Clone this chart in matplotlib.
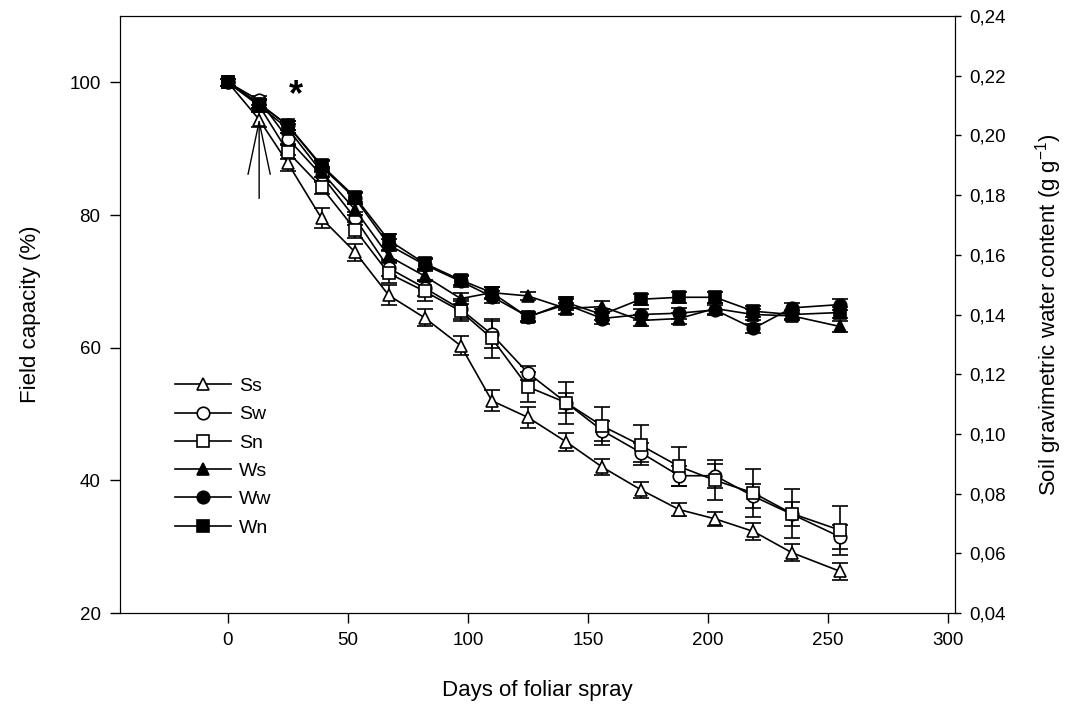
import matplotlib
matplotlib.use('Agg')
import matplotlib.pyplot as plt
from matplotlib.ticker import FuncFormatter

plt.rcParams['font.family'] = ['Liberation Sans', 'DejaVu Sans']
plt.rcParams['mathtext.fontset'] = 'custom'
plt.rcParams['mathtext.rm'] = 'Liberation Sans'
plt.rcParams['mathtext.it'] = 'Liberation Sans'

# days of foliar spray
days = [0, 13, 25, 39, 53, 67, 82, 97, 110, 125, 141, 156, 172, 188, 203, 219, 235, 255]

# field capacity (%) per treatment, with standard errors
ss = [100, 94.4, 87.8, 79.5, 74.4, 67.9, 64.5, 60.3, 52.0, 49.5, 45.8, 42.0, 38.6, 35.6, 34.2, 32.3, 29.1, 26.3]
ss_err = [0.5, 1.2, 1.2, 1.5, 1.3, 1.5, 1.3, 1.4, 1.6, 1.6, 1.3, 1.2, 1.2, 1.0, 1.1, 1.3, 1.3, 1.3]
sw = [100, 97.3, 91.5, 86.0, 79.5, 72.0, 69.0, 65.8, 62.0, 56.2, 51.7, 47.5, 44.2, 40.7, 40.7, 37.6, 34.9, 31.5]
sw_err = [0.5, 0.7, 0.8, 1.0, 1.0, 1.2, 1.2, 1.5, 2.0, 1.0, 1.5, 1.5, 1.5, 1.5, 1.8, 1.8, 1.8, 1.8]
sn = [100, 96.5, 89.5, 84.2, 77.8, 71.2, 68.5, 65.5, 61.4, 54.1, 51.7, 48.2, 45.3, 42.1, 40.0, 38.1, 35.0, 32.5]
sn_err = [0.5, 0.8, 1.0, 1.0, 1.2, 1.5, 1.5, 1.5, 3.0, 2.3, 3.2, 2.8, 3.0, 3.0, 3.0, 3.6, 3.7, 3.7]
ws = [100, 96.5, 93.0, 86.5, 80.8, 73.8, 70.8, 67.4, 68.3, 67.8, 65.9, 66.2, 64.1, 64.4, 65.9, 65.0, 64.8, 63.2]
ws_err = [0.5, 0.8, 0.7, 0.8, 0.8, 0.9, 0.8, 0.8, 0.8, 0.6, 0.8, 0.8, 0.8, 0.8, 0.8, 0.8, 0.7, 0.8]
ww = [100, 96.8, 93.5, 87.3, 82.5, 75.5, 72.5, 70.0, 67.7, 64.7, 66.5, 64.4, 65.0, 65.2, 65.7, 62.9, 66.0, 66.5]
ww_err = [0.5, 0.7, 0.7, 0.8, 0.8, 0.9, 0.8, 0.8, 0.9, 0.7, 0.8, 0.8, 0.8, 0.8, 0.8, 0.7, 0.7, 0.8]
wn = [100, 96.8, 93.5, 87.5, 82.7, 76.2, 72.7, 70.2, 68.3, 64.6, 66.8, 65.0, 67.3, 67.6, 67.6, 65.5, 65.0, 65.3]
wn_err = [0.5, 0.7, 0.7, 0.8, 0.8, 0.9, 0.8, 0.8, 0.9, 0.7, 0.8, 0.8, 0.8, 0.8, 0.8, 0.8, 0.7, 0.8]

labels = ['Ss', 'Sw', 'Sn', 'Ws', 'Ww', 'Wn']
series = [ss, sw, sn, ws, ww, wn]
errors = [ss_err, sw_err, sn_err, ws_err, ww_err, wn_err]
markers = ['^', 'o', 's', '^', 'o', 's']
fills = ['white', 'white', 'white', 'black', 'black', 'black']

fig = plt.figure(figsize=(10.74, 7.12), dpi=100)
ax = fig.add_axes([0.1117, 0.139, 0.7775, 0.8385])

handles = []
for lab, y, e, m, fc in zip(labels, series, errors, markers, fills):
    c = ax.errorbar(days, y, yerr=e, color='black', lw=1.2, marker=m, ms=9,
                    mfc=fc, mec='black', mew=1.2, capsize=6, capthick=1.2,
                    elinewidth=1.2, label=lab)
    handles.append(c.lines[0])

ax.set_xlim(-45, 303)
ax.set_ylim(20, 110)
ax.set_xticks(range(0, 301, 50))
ax.set_yticks(range(20, 101, 20))
ax.tick_params(direction='out', length=7, width=1, labelsize=13.5, pad=7)
ax.set_xlabel('Days of foliar spray', fontsize=16, labelpad=22)
ax.set_ylabel('Field capacity (%)', fontsize=16, labelpad=20)

ax.legend(handles, labels, loc='upper left', bbox_to_anchor=(0.045, 0.424),
          frameon=False, fontsize=14, handlelength=2.9, labelspacing=0.55,
          handletextpad=0.4)

# spray arrow and significance mark
ax.annotate('', xy=(13, 94.6), xytext=(13, 82.5),
            arrowprops=dict(arrowstyle='->, head_length=3.8, head_width=0.8',
                            lw=1, color='black', shrinkA=0, shrinkB=0))
ax.text(28.5, 98.0, '*', fontsize=26, fontweight='bold', ha='center', va='center')

ax2 = ax.twinx()
ax2.set_ylim(0.04, 0.24)
ax2.set_yticks([0.04, 0.06, 0.08, 0.10, 0.12, 0.14, 0.16, 0.18, 0.20, 0.22, 0.24])
ax2.yaxis.set_major_formatter(FuncFormatter(lambda v, p: f'{v:.2f}'.replace('.', ',')))
ax2.tick_params(direction='out', length=4, width=1, labelsize=13.5, pad=6)
ax2.set_ylabel('Soil gravimetric water content (g g$^{-1}$)', fontsize=16, labelpad=20)

fig.savefig('out.png', dpi=100)
